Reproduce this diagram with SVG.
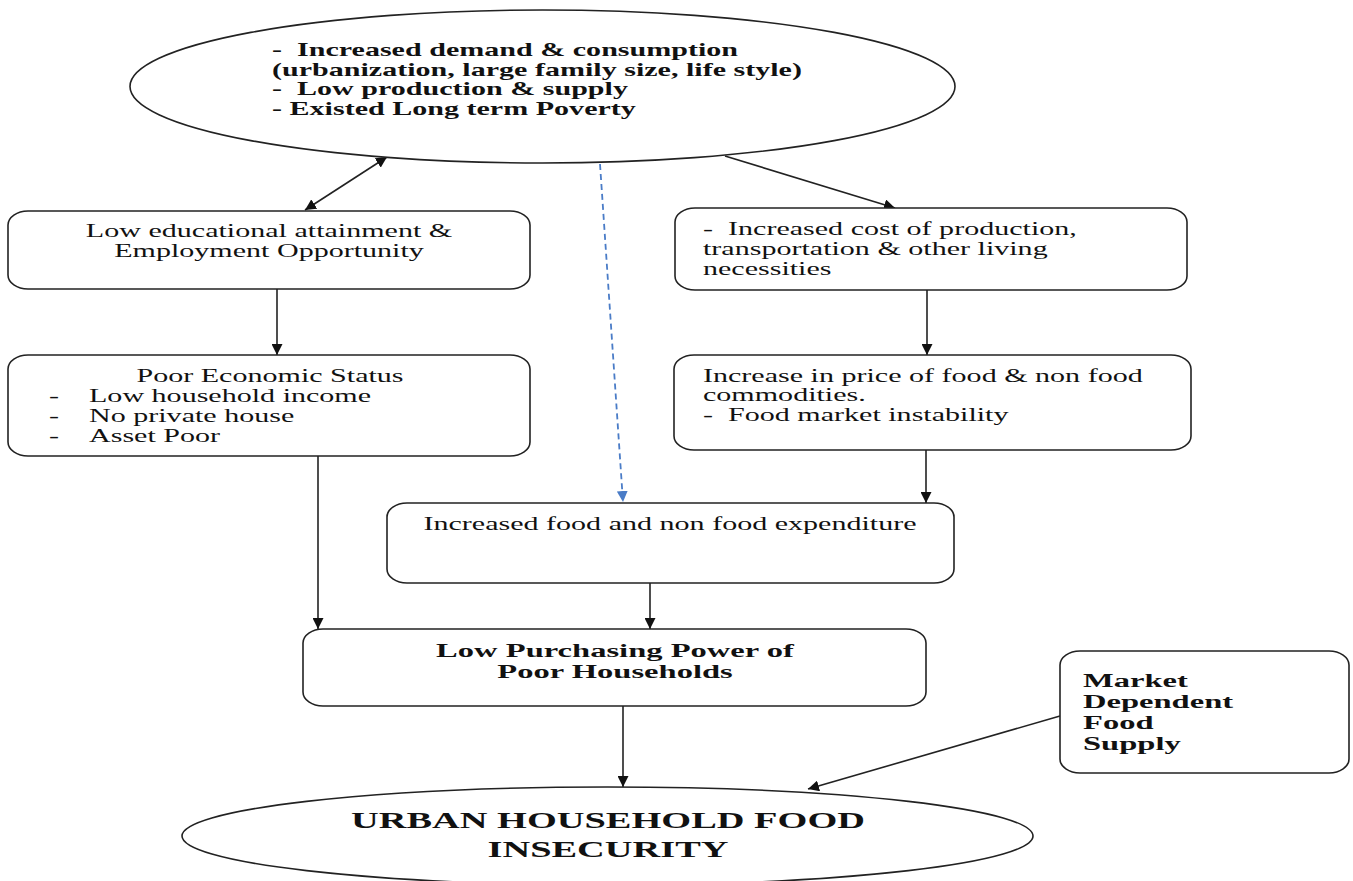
<svg xmlns="http://www.w3.org/2000/svg" width="1353" height="881" viewBox="0 0 1353 881">
<style>
.shape{fill:#fff;stroke:#222;stroke-width:1.6}
.line{stroke:#222;stroke-width:1.6;fill:none}
.dash{stroke:#4a7cc7;stroke-width:1.8;stroke-dasharray:6 4;fill:none}
text{font-family:"Liberation Serif","Times New Roman",serif;fill:#111;white-space:pre}
.r{font-size:18px}
.b{font-size:18px;font-weight:bold}
.b2{font-size:19.5px;font-weight:bold}
.big{font-size:23px;font-weight:bold}
.m{text-anchor:middle}
</style>
<defs>
<marker id="ah" viewBox="0 0 10 10" refX="10" refY="5" markerWidth="11" markerHeight="11" markerUnits="userSpaceOnUse" orient="auto-start-reverse">
<path d="M0,0 L10,5 L0,10 z" fill="#111"/>
</marker>
<marker id="ahb" viewBox="0 0 10 10" refX="10" refY="5" markerWidth="11" markerHeight="11" markerUnits="userSpaceOnUse" orient="auto">
<path d="M0,0 L10,5 L0,10 z" fill="#4a7cc7"/>
</marker>
</defs>
<rect width="1353" height="881" fill="#fff"/>

<g id="connectors">
<line class="line" x1="305" y1="210" x2="387" y2="157" marker-start="url(#ah)" marker-end="url(#ah)"/>
<line class="dash" x1="600" y1="164" x2="623" y2="502" marker-end="url(#ahb)"/>
<line class="line" x1="725" y1="156" x2="895" y2="208" marker-end="url(#ah)"/>
<line class="line" x1="277" y1="289" x2="277" y2="355" marker-end="url(#ah)"/>
<line class="line" x1="927" y1="290" x2="927" y2="355" marker-end="url(#ah)"/>
<line class="line" x1="926" y1="450" x2="926" y2="503" marker-end="url(#ah)"/>
<line class="line" x1="318" y1="456" x2="318" y2="629" marker-end="url(#ah)"/>
<line class="line" x1="650" y1="583" x2="650" y2="629" marker-end="url(#ah)"/>
<line class="line" x1="623" y1="706" x2="623" y2="787" marker-end="url(#ah)"/>
<line class="line" x1="1060" y1="716" x2="808" y2="789" marker-end="url(#ah)"/>
</g>

<g id="top-causes">
<ellipse class="shape" cx="542.5" cy="86.5" rx="412.5" ry="76.5"/>
<text class="b" transform="translate(272,56) scale(1.67,1)">-  Increased demand &amp; consumption</text>
<text class="b" transform="translate(272,75.5) scale(1.67,1)">(urbanization, large family size, life style)</text>
<text class="b" transform="translate(272,95) scale(1.67,1)">-  Low production &amp; supply</text>
<text class="b" transform="translate(272,115) scale(1.67,1)">- Existed Long term Poverty</text>
</g>

<g id="low-education">
<rect class="shape" x="8" y="211" width="522" height="78" rx="20" ry="14"/>
<text class="r m" transform="translate(269,237) scale(1.67,1)">Low educational attainment &amp;</text>
<text class="r m" transform="translate(269,257) scale(1.67,1)">Employment Opportunity</text>
</g>

<g id="poor-economic-status">
<rect class="shape" x="8" y="355" width="522" height="101" rx="20" ry="14"/>
<text class="r m" transform="translate(270,382) scale(1.67,1)">Poor Economic Status</text>
<text class="r" transform="translate(49,402) scale(1.67,1)">-</text>
<text class="r" transform="translate(89,402) scale(1.67,1)">Low household income</text>
<text class="r" transform="translate(49,422) scale(1.67,1)">-</text>
<text class="r" transform="translate(89,422) scale(1.67,1)">No private house</text>
<text class="r" transform="translate(49,442) scale(1.67,1)">-</text>
<text class="r" transform="translate(89,442) scale(1.67,1)">Asset Poor</text>
</g>

<g id="increased-cost">
<rect class="shape" x="675" y="208" width="512" height="82" rx="20" ry="14"/>
<text class="r" transform="translate(703,235) scale(1.67,1)">-  Increased cost of production,</text>
<text class="r" transform="translate(703,255) scale(1.67,1)">transportation &amp; other living</text>
<text class="r" transform="translate(703,275) scale(1.67,1)">necessities</text>
</g>

<g id="price-increase">
<rect class="shape" x="674" y="355" width="517" height="95" rx="20" ry="14"/>
<text class="r" transform="translate(703,382) scale(1.67,1)">Increase in price of food &amp; non food</text>
<text class="r" transform="translate(703,401) scale(1.67,1)">commodities.</text>
<text class="r" transform="translate(703,421) scale(1.67,1)">-  Food market instability</text>
</g>

<g id="expenditure">
<rect class="shape" x="387" y="503" width="567" height="80" rx="20" ry="14"/>
<text class="r m" transform="translate(670,530) scale(1.67,1)">Increased food and non food expenditure</text>
</g>

<g id="purchasing-power">
<rect class="shape" x="303" y="629" width="623" height="77" rx="20" ry="14"/>
<text class="b2 m" transform="translate(615,657) scale(1.67,1)">Low Purchasing Power of</text>
<text class="b2 m" transform="translate(615,678) scale(1.67,1)">Poor Households</text>
</g>

<g id="market-supply">
<rect class="shape" x="1060" y="651" width="289" height="122" rx="20" ry="14"/>
<text class="b2" transform="translate(1083,687) scale(1.67,1)">Market</text>
<text class="b2" transform="translate(1083,708) scale(1.67,1)">Dependent</text>
<text class="b2" transform="translate(1083,729) scale(1.67,1)">Food</text>
<text class="b2" transform="translate(1083,750) scale(1.67,1)">Supply</text>
</g>

<g id="food-insecurity">
<ellipse class="shape" cx="607.5" cy="836" rx="425.5" ry="49"/>
<text class="big m" transform="translate(608,828) scale(1.67,1)">URBAN HOUSEHOLD FOOD</text>
<text class="big m" transform="translate(608,857) scale(1.67,1)">INSECURITY</text>
</g>
</svg>
